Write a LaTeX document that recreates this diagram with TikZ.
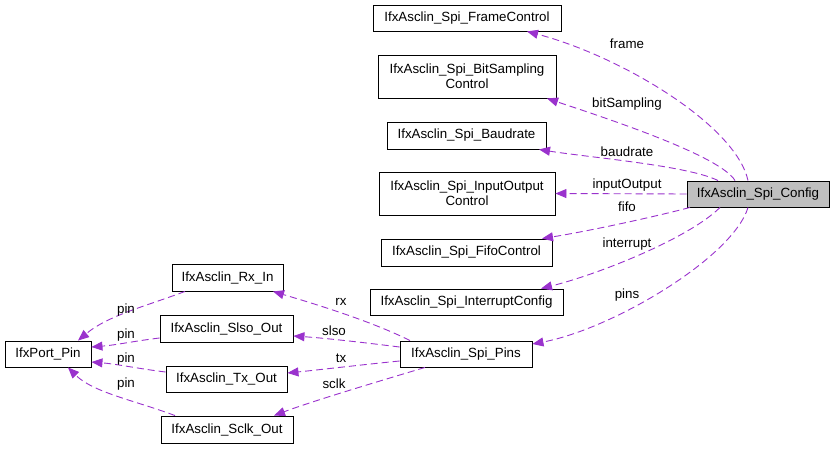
\documentclass[tikz,border=0pt]{standalone}
\usepackage{fontspec}
\setmainfont{Liberation Sans}
\usetikzlibrary{arrows.meta}
\definecolor{edgec}{HTML}{9A32CD}
\definecolor{cfgfill}{HTML}{BFBFBF}
\begin{document}
\begin{tikzpicture}[x=1pt,y=-1pt,
  box/.style={draw=black, line width=0.9pt, inner sep=0pt, align=center, font=\fontsize{13.33}{15}\selectfont},
  rel/.style={draw=edgec, line width=0.9pt, dash pattern=on 7pt off 4pt, -{Triangle[length=11pt,width=9pt]}},
  lbl/.style={font=\fontsize{13.33}{15}\selectfont, inner sep=0pt}]
\useasboundingbox (0,0) rectangle (837,449);
% nodes
\node[box, minimum width=188pt, minimum height=26pt] (frame) at (467,18) {IfxAsclin\_Spi\_FrameControl};
\node[box, minimum width=178pt, minimum height=43pt] (bits) at (467,76.5) {IfxAsclin\_Spi\_BitSampling\\Control};
\node[box, minimum width=159pt, minimum height=27pt] (baud) at (466.5,135.5) {IfxAsclin\_Spi\_Baudrate};
\node[box, minimum width=176pt, minimum height=43pt] (io) at (467,193.5) {IfxAsclin\_Spi\_InputOutput\\Control};
\node[box, minimum width=171pt, minimum height=27pt] (fifo) at (466.5,252.5) {IfxAsclin\_Spi\_FifoControl};
\node[box, minimum width=193pt, minimum height=26pt] (intr) at (466.5,302) {IfxAsclin\_Spi\_InterruptConfig};
\node[box, fill=cfgfill, minimum width=142pt, minimum height=26pt] (cfg) at (758,194) {IfxAsclin\_Spi\_Config};
\node[box, minimum width=132pt, minimum height=26pt] (pins) at (466,354) {IfxAsclin\_Spi\_Pins};
\node[box, minimum width=111pt, minimum height=27pt] (rx) at (227.5,277.5) {IfxAsclin\_Rx\_In};
\node[box, minimum width=133pt, minimum height=27pt] (slso) at (226.5,328.5) {IfxAsclin\_Slso\_Out};
\node[box, minimum width=121pt, minimum height=26pt] (tx) at (226.5,379) {IfxAsclin\_Tx\_Out};
\node[box, minimum width=132pt, minimum height=27pt] (sclk) at (227,429.5) {IfxAsclin\_Sclk\_Out};
\node[box, minimum width=86pt, minimum height=26pt] (port) at (48,354) {IfxPort\_Pin};
% edges from config
\draw[rel] ([xshift=-10pt]cfg.north) .. controls +(-12,-55) and +(95,25) .. ([xshift=60pt]frame.south);
\draw[rel] ([xshift=-23pt]cfg.north) .. controls +(-15,-25) and +(60,20) .. ([xshift=80pt]bits.south);
\draw[rel] ([xshift=-40pt]cfg.north) .. controls +(-30,-15) and +(50,8) .. ([xshift=72.5pt]baud.south);
\draw[rel] (cfg.west) -- (io.east);
\draw[rel] ([xshift=-68pt]cfg.south) .. controls +(-30,8) and +(50,-8) .. ([xshift=75.5pt]fifo.north);
\draw[rel] ([xshift=-38pt]cfg.south) .. controls +(-30,30) and +(60,-15) .. ([xshift=74.5pt]intr.north);
\draw[rel] ([xshift=-10pt]cfg.south) .. controls +(-15,50) and +(80,-15) .. ([yshift=10pt]pins.east);
% edges from pins
\draw[rel] ([xshift=-56pt]pins.north) .. controls +(-40,-20) and +(40,12) .. ([xshift=45.5pt]rx.south);
\draw[rel] ([yshift=7pt]pins.west) .. controls +(-40,-5) and +(30,2) .. ([yshift=-7.5pt]slso.east);
\draw[rel] ([yshift=-7pt]pins.west) .. controls +(-40,4) and +(30,-3) .. ([yshift=6pt]tx.east);
\draw[rel] ([xshift=-41pt]pins.south) .. controls +(-40,12) and +(40,-15) .. ([xshift=47pt]sclk.north);
% edges to port
\draw[rel] ([xshift=-42.5pt]rx.south) .. controls +(-40,15) and +(30,-25) .. ([xshift=30pt]port.north);
\draw[rel] ([yshift=-9.5pt]slso.west) .. controls +(-25,3) and +(25,-2) .. ([yshift=7pt]port.east);
\draw[rel] ([yshift=7pt]tx.west) .. controls +(-25,-3) and +(25,2) .. ([yshift=-8pt]port.east);
\draw[rel] ([xshift=-52pt]sclk.north) .. controls +(-40,-15) and +(25,25) .. ([xshift=20pt]port.south);
% labels
\node[lbl] (lframe) at (627,44) {frame};
\node[lbl] (lbits) at (627,104) {bitSampling};
\node[lbl] (lbaud) at (627,152) {baudrate};
\node[lbl] (lio) at (627,185) {inputOutput};
\node[lbl] (lfifo) at (627,207) {fifo};
\node[lbl] (lintr) at (627,244) {interrupt};
\node[lbl] (lpins) at (627,295) {pins};
\node[lbl] (lrx) at (341,302) {rx};
\node[lbl] (lslso) at (334,331) {slso};
\node[lbl] (ltx) at (341,358) {tx};
\node[lbl] (lsclk) at (334,384) {sclk};
\node[lbl] (lp1) at (126,310) {pin};
\node[lbl] (lp2) at (126,335) {pin};
\node[lbl] (lp3) at (126,359) {pin};
\node[lbl] (lp4) at (126,384) {pin};
\end{tikzpicture}
\end{document}
